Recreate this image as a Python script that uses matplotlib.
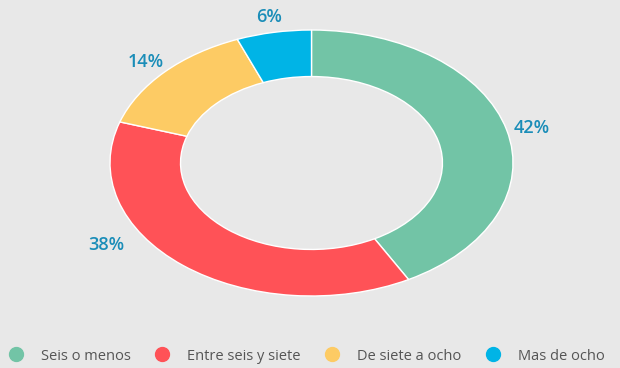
import matplotlib.pyplot as plt
from matplotlib.lines import Line2D

categorias = ["Seis o menos", "Entre seis y siete", "De siete a ocho", "Mas de ocho"]
valores = [42, 38, 14, 6]
colores = ["#72c4a6", "#ff5257", "#fdcb64", "#00b4e6"]

fondo = "#e8e8e8"

fig = plt.figure(figsize=(6.2, 3.68), dpi=100)
fig.patch.set_facecolor(fondo)
ax = fig.add_axes([110 / 620, 72 / 368, 403 / 620, 266 / 368])
ax.set_facecolor(fondo)

wedges, textos = ax.pie(valores, colors=colores, startangle=90, counterclock=False,
                        radius=1, wedgeprops=dict(width=0.35, edgecolor="white", linewidth=1),
                        labels=[f"{v}%" for v in valores], labeldistance=1.13,
                        textprops=dict(color="#1a8db8", fontsize=13, family="Open Sans",
                                       fontweight="semibold"))
for t in textos:
    t.set_horizontalalignment("center")
    t.set_verticalalignment("center_baseline")
# la etiqueta del 38% esta desplazada hacia arriba en el original
textos[1].set_position((-1.02, -0.6))

ax.set_xlim(-1, 1)
ax.set_ylim(-1, 1)
ax.set_aspect("auto")
ax.axis("off")

handles = [Line2D([0], [0], marker="o", linestyle="", markersize=10,
                  markerfacecolor=c, markeredgecolor=c) for c in colores]
fig.legend(handles, categorias, loc="center", bbox_to_anchor=(0.495, 12 / 368),
           ncol=4, frameon=False, handlelength=0.96, handletextpad=1.23, columnspacing=1.7,
           labelcolor="#555555", prop=dict(family="Open Sans", size=10.5))

fig.savefig("out.png", dpi=100, facecolor=fondo)
